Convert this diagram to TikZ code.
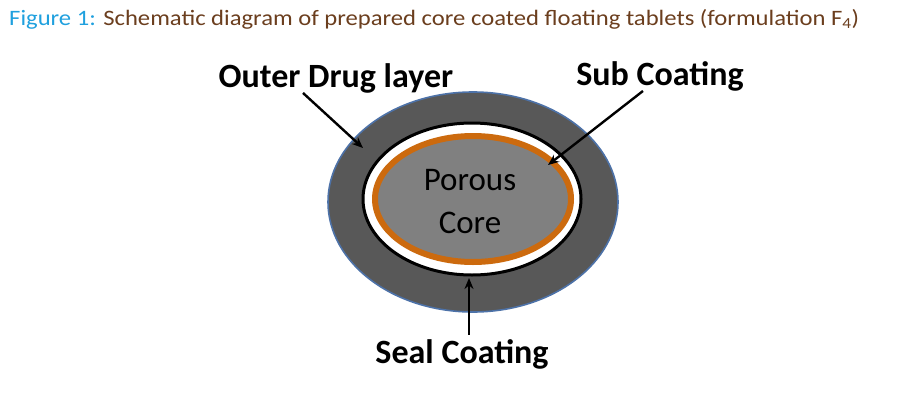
\documentclass[tikz,border=0pt]{standalone}
\usepackage{fontspec}
\setmainfont{Carlito}
\newfontfamily\capfont[FakeStretch=1.12]{Carlito}
\usetikzlibrary{arrows.meta}
\definecolor{capblue}{HTML}{1FA0DE}
\definecolor{capbrown}{HTML}{6B3E1E}
\definecolor{drugdark}{HTML}{585858}
\definecolor{rimblue}{HTML}{4D72A8}
\definecolor{subor}{HTML}{CC6A0E}
\definecolor{coregrey}{HTML}{808080}
\tikzset{
  lbl/.style={font=\fontsize{34}{36}\selectfont\bfseries, inner sep=0pt, anchor=base},
  pointer/.style={-{Stealth[length=11pt,width=9pt]}, line width=2.4pt},
}
\begin{document}
\begin{tikzpicture}[x=1pt, y=-1pt] % 1 unit = 1 pixel of the figure
    \useasboundingbox (0,0) rectangle (899,410);
    % Caption
    \node[anchor=base west, inner sep=0pt, font=\capfont\fontsize{22}{24}\selectfont] (cap) at (9,25)
        {\textcolor{capblue}{Figure 1:} \textcolor{capbrown}{Schematic diagram of prepared core coated floating tablets (formulation F\textsubscript{4})}};
    % Tablet layers
    \fill[drugdark, draw=rimblue, line width=1.6pt] (473,202) ellipse [x radius=145, y radius=110]; % outer drug layer
    \filldraw[fill=white, draw=black, line width=3pt] (472,199) ellipse [x radius=109, y radius=76]; % seal coating
    \filldraw[fill=coregrey, draw=subor, line width=6pt] (473,199) ellipse [x radius=98, y radius=63]; % sub coating + core
    % Core text (base = last line)
    \node[font=\fontsize{33}{43}\selectfont, align=center, inner sep=0pt, anchor=base] (core) at (470,233)
        {Porous\\Core};
    % Labels
    \node[lbl] (drug) at (336,87) {Outer Drug layer};
    \node[lbl] (subtxt) at (660,85) {Sub Coating};
    \node[lbl] (sealtxt) at (462,363) {Seal Coating};
    % Arrow tips
    \coordinate (drugtip) at (363,148);
    \coordinate (subtip) at (548,165);
    \coordinate (sealtip) at (469,278);
    \draw[pointer] ([xshift=-33pt]drug.south) -- (drugtip);
    \draw[pointer] ([xshift=-17pt]subtxt.south) -- (subtip);
    \draw[pointer] ([xshift=7pt, yshift=4pt]sealtxt.north) -- (sealtip);
\end{tikzpicture}
\end{document}
